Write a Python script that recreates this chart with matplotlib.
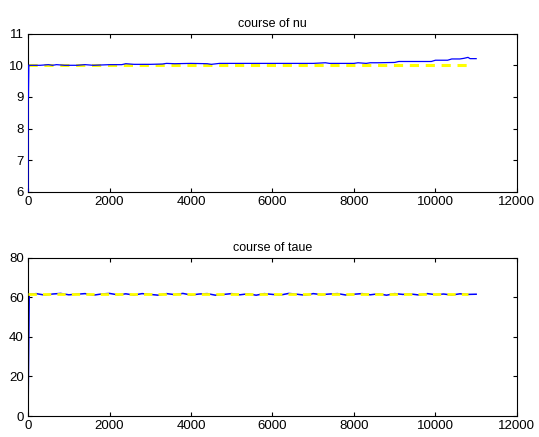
import numpy as np
import matplotlib
matplotlib.use("Agg")
import matplotlib.pyplot as plt

plt.rcParams['font.family'] = ['Liberation Sans', 'DejaVu Sans']

# course of nu (sampled iterations)
nu_x = [0, 5, 10, 20, 300, 500, 600, 700, 900, 1200, 1400, 1600, 2000, 2300, 2400, 2600,
        3000, 3300, 3400, 3600, 4000, 4400, 4500, 4700, 5000, 5500, 6000, 6500, 7000, 7300,
        7400, 8000, 8100, 8300, 8400, 8600, 9000, 9100, 9500, 9900, 10000, 10300, 10400,
        10600, 10700, 10800, 10850, 11000]
nu_y = [6.0, 10.0, 9.0, 10.0, 10.0, 10.02, 10.0, 10.02, 10.0, 10.0, 10.02, 10.0, 10.02,
        10.02, 10.05, 10.03, 10.03, 10.04, 10.06, 10.05, 10.06, 10.05, 10.03, 10.06, 10.06,
        10.06, 10.06, 10.06, 10.06, 10.08, 10.06, 10.06, 10.08, 10.06, 10.08, 10.08, 10.09,
        10.12, 10.12, 10.12, 10.16, 10.16, 10.2, 10.2, 10.22, 10.25, 10.21, 10.21]
nu_true_x = [0, 10800]
nu_true_y = [10.0, 10.0]

# course of taue
taue_x = [0, 30] + list(range(200, 11001, 200))
taue_y = [0.0, 61.5,
          61.9, 61.2, 61.7, 62.0, 61.3, 61.6, 61.9, 61.1, 61.7, 62.0, 61.3, 61.8, 61.2, 61.9,
          61.5, 61.1, 61.9, 61.4, 62.0, 61.2, 61.7, 61.9, 61.1, 61.5, 61.9, 61.3, 61.8, 61.1,
          61.9, 61.5, 61.2, 62.0, 61.6, 61.1, 61.9, 61.4, 61.7, 61.9, 61.2, 61.6, 61.9, 61.3,
          61.8, 61.1, 61.9, 61.5, 61.7, 61.2, 61.9, 61.4, 61.7, 61.2, 61.8, 61.5, 61.6]
taue_true_x = [0, 10800]
taue_true_y = [61.5, 61.5]

xticks = [0, 2000, 4000, 6000, 8000, 10000, 12000]

fig = plt.figure(figsize=(5.39, 4.37), dpi=100)
ax1 = fig.add_axes([0.052, 0.561, 0.907, 0.362])
ax2 = fig.add_axes([0.052, 0.048, 0.907, 0.362])

ax1.plot(nu_true_x, nu_true_y, color='#ffff00', lw=2.2, ls=(0, (3, 2.2)), zorder=2)
ax1.plot(nu_x, nu_y, color='#0000ff', lw=0.9, zorder=3)
ax1.set_ylim(6, 11)
ax1.set_yticks([6, 7, 8, 9, 10, 11])
ax1.set_title('course of nu', fontsize=9, pad=5)

ax2.plot(taue_x, taue_y, color='#0000ff', lw=1.1, zorder=2)
ax2.plot(taue_true_x, taue_true_y, color='#ffff00', lw=2.0, ls=(0, (3, 2.2)), zorder=3)
ax2.set_ylim(0, 80)
ax2.set_yticks([0, 20, 40, 60, 80])
ax2.set_title('course of taue', fontsize=9, pad=5)

for ax in (ax1, ax2):
    ax.set_xlim(0, 12000)
    ax.set_xticks(xticks)
    ax.tick_params(direction='in', length=3, labelsize=9.5, top=True, right=True, pad=3)
    for s in ax.spines.values():
        s.set_linewidth(0.8)

fig.savefig('out.png', dpi=100)
